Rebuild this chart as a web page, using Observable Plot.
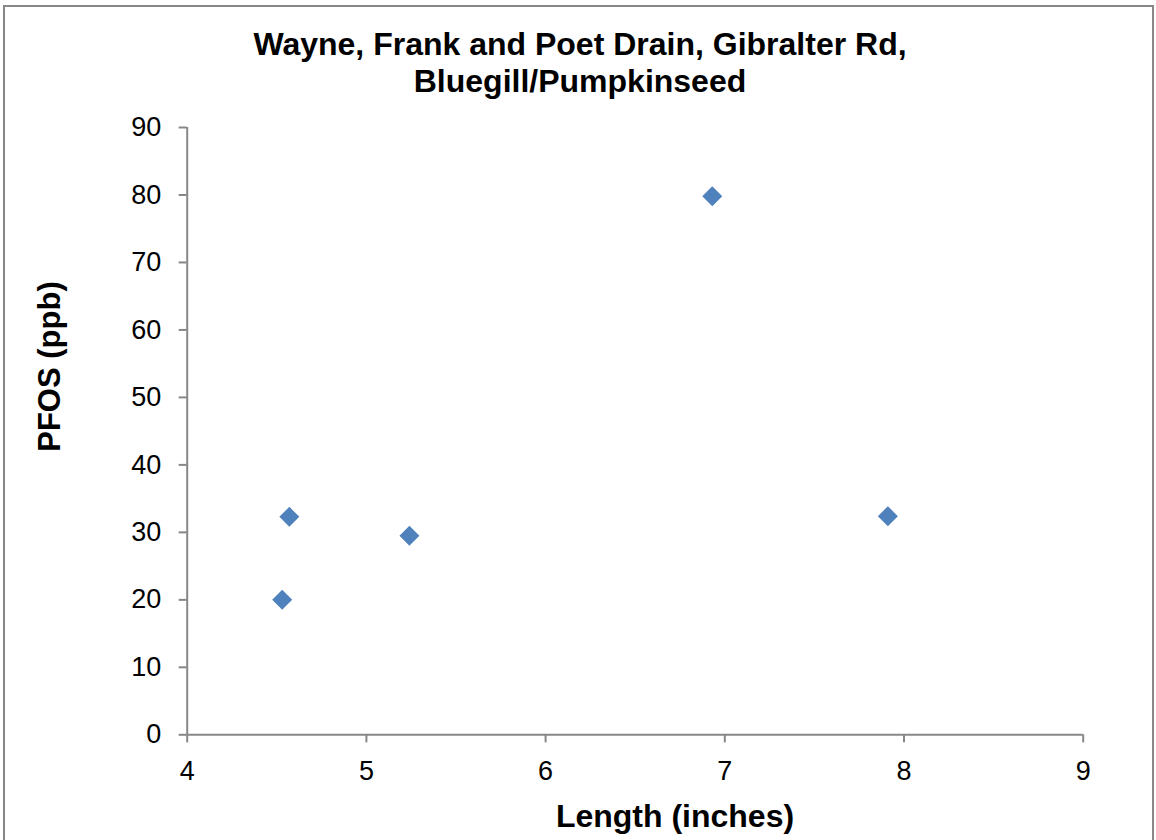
<!DOCTYPE html>
<html><head><meta charset="utf-8">
<script src="https://cdn.jsdelivr.net/npm/d3@7"></script>
<script src="https://cdn.jsdelivr.net/npm/@observablehq/plot@0.6"></script>
<style>
body{margin:0;background:#fff;}
#wrap{position:relative;width:1156px;height:840px;overflow:hidden;font-family:"Liberation Sans",Arial,sans-serif;background:#fff;}
#frame{position:absolute;left:3px;top:5px;width:1151px;height:900px;border:2px solid #878787;box-sizing:border-box;}
#title{position:absolute;left:0;top:26px;width:1160px;text-align:center;font-weight:bold;font-size:32px;line-height:37px;color:#000;}
#xlabel{position:absolute;left:375px;top:800px;width:600px;text-align:center;font-weight:bold;font-size:32px;line-height:32px;color:#000;}
#ylabel{position:absolute;left:-151px;top:349px;width:400px;height:35px;line-height:35px;text-align:center;font-weight:bold;font-size:31px;color:#000;transform:rotate(-90deg);transform-origin:center center;}
#chart{position:absolute;left:0;top:0;}
</style>
</head><body>
<div id="wrap">
  <div id="frame"></div>
  <div id="chart"></div>
  <div id="title">Wayne, Frank and Poet Drain, Gibralter Rd,<br>Bluegill/Pumpkinseed</div>
  <div id="xlabel">Length (inches)</div>
  <div id="ylabel">PFOS (ppb)</div>
</div>
<script>
const lengths = [4.53, 4.57, 5.24, 6.93, 7.91];
const pfos = [20.0, 32.3, 29.5, 79.8, 32.4];
const xDomain = [4, 9];
const yDomain = [0, 90];
const xTicks = [4, 5, 6, 7, 8, 9];
const yTicks = [0, 10, 20, 30, 40, 50, 60, 70, 80, 90];

const data = lengths.map((x, i) => ({x, y: pfos[i]}));
const axisColor = "#878787";

const plot = Plot.plot({
  width: 1156,
  height: 840,
  marginLeft: 186.7,
  marginRight: 73.3,
  marginTop: 127,
  marginBottom: 105.7,
  style: {fontFamily: "Liberation Sans, Arial, sans-serif", fontSize: "27px", background: "transparent", color: "#000"},
  x: {domain: xDomain},
  y: {domain: yDomain},
  marks: [
    Plot.axisX({ticks: xTicks, tickSize: 8, tickPadding: 18, fontSize: 27, stroke: axisColor, fill: "black", strokeWidth: 2, label: null, tickFormat: d => String(d)}),
    Plot.axisY({ticks: yTicks, tickSize: 8, tickPadding: 18, fontSize: 27, stroke: axisColor, fill: "black", strokeWidth: 2, label: null, tickFormat: d => String(d)}),
    Plot.ruleX([xDomain[0]], {y1: yDomain[0], y2: yDomain[1], stroke: axisColor, strokeWidth: 2}),
    Plot.ruleY([yDomain[0]], {x1: xDomain[0], x2: xDomain[1], stroke: axisColor, strokeWidth: 2}),
    Plot.dot(data, {x: "x", y: "y", symbol: "diamond2", r: 9, fill: "#4F81BD", stroke: "none"})
  ]
});
document.getElementById("chart").appendChild(plot);
</script>
</body></html>
